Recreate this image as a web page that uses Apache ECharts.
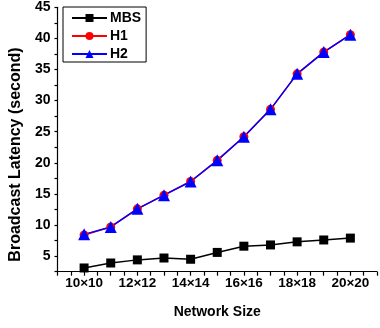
<!DOCTYPE html>
<html>
<head>
<meta charset="utf-8">
<script src="https://cdn.jsdelivr.net/npm/echarts@6/dist/echarts.min.js"></script>
<style>
  html, body { margin: 0; padding: 0; background: #fff; }
  #chart { width: 380px; height: 328px; }
</style>
</head>
<body>
<div id="chart"></div>
<script>
// Network sizes (n for an n×n mesh) and their axis labels
const sizes = [10, 11, 12, 13, 14, 15, 16, 17, 18, 19, 20];
const categories = ['10×10', '11×11', '12×12', '13×13', '14×14', '15×15',
                    '16×16', '17×17', '18×18', '19×19', '20×20'];

// Broadcast latency in seconds
const mbs = [3.1, 3.9, 4.4, 4.7, 4.5, 5.6, 6.6, 6.8, 7.3, 7.6, 7.9];
const h1  = [8.4, 9.7, 12.6, 14.8, 17.0, 20.4, 24.2, 28.6, 34.3, 37.8, 40.6];
const h2  = [8.5, 9.7, 12.6, 14.8, 17.0, 20.4, 24.2, 28.6, 34.3, 37.8, 40.6];

// Y tick labels shown on the axis
const yTicks = [5, 10, 15, 20, 25, 30, 35, 40, 45];

const FONT = 'Liberation Sans, Arial, sans-serif';
const labelBySize = {};
sizes.forEach((s, i) => { labelBySize[s] = categories[i]; });

function pairs(vals) { return sizes.map((s, i) => [s, vals[i]]); }

const chart = echarts.init(document.getElementById('chart'), null, { renderer: 'canvas' });

chart.setOption({
  animation: false,
  backgroundColor: '#fff',
  grid: { left: 53, right: -2, top: 7.3, bottom: 56.3, containLabel: false },
  legend: {
    left: 63, top: 7,
    orient: 'vertical',
    borderColor: '#000', borderWidth: 1,
    padding: [4, 5, 1, 8],
    itemWidth: 35, itemHeight: 10, itemGap: 4,
    textStyle: { fontFamily: FONT, fontWeight: 'bold', fontSize: 14, color: '#000', padding: [0, 0, 0, -2] },
    data: ['MBS', 'H1', 'H2']
  },
  xAxis: {
    type: 'value',
    min: 9, max: 21, interval: 0.5,
    name: 'Network Size',
    nameLocation: 'middle', nameGap: 33,
    nameTextStyle: { fontFamily: FONT, fontWeight: 'bold', fontSize: 14, color: '#000' },
    axisLine: { lineStyle: { color: '#000', width: 1.2 } },
    axisTick: { length: 4, lineStyle: { color: '#000', width: 1.2 } },
    splitLine: { show: false },
    axisLabel: {
      fontFamily: FONT, fontWeight: 'bold', fontSize: 13.5, color: '#000', margin: 5,
      formatter: v => (v % 2 === 0 && labelBySize[v]) ? labelBySize[v] : ''
    }
  },
  yAxis: {
    type: 'value',
    min: 2.5, max: 45, interval: 2.5,
    name: 'Broadcast Latency (second)',
    nameLocation: 'middle', nameGap: 31,
    nameTextStyle: { fontFamily: FONT, fontWeight: 'bold', fontSize: 16, color: '#000', padding: [0, 30, 0, 0] },
    axisLine: { show: true, lineStyle: { color: '#000', width: 1.2 } },
    axisTick: { length: 3, lineStyle: { color: '#000', width: 1.2 } },
    splitLine: { show: false },
    axisLabel: {
      fontFamily: FONT, fontWeight: 'bold', fontSize: 14, color: '#000', margin: 7,
      formatter: v => yTicks.indexOf(v) >= 0 ? String(v) : ''
    }
  },
  series: [
    {
      name: 'MBS', type: 'line', data: pairs(mbs),
      symbol: 'rect', symbolSize: 9,
      lineStyle: { color: '#000', width: 1.5 },
      itemStyle: { color: '#000' }
    },
    {
      name: 'H1', type: 'line', data: pairs(h1),
      symbol: 'circle', symbolSize: 9,
      lineStyle: { color: '#ff0000', width: 1.5 },
      itemStyle: { color: '#ff0000' }
    },
    {
      name: 'H2', type: 'line', data: pairs(h2),
      symbol: 'triangle', symbolSize: 12,
      lineStyle: { color: '#0000ff', width: 1.5 },
      itemStyle: { color: '#0000ff' }
    }
  ]
});
</script>
</body>
</html>
